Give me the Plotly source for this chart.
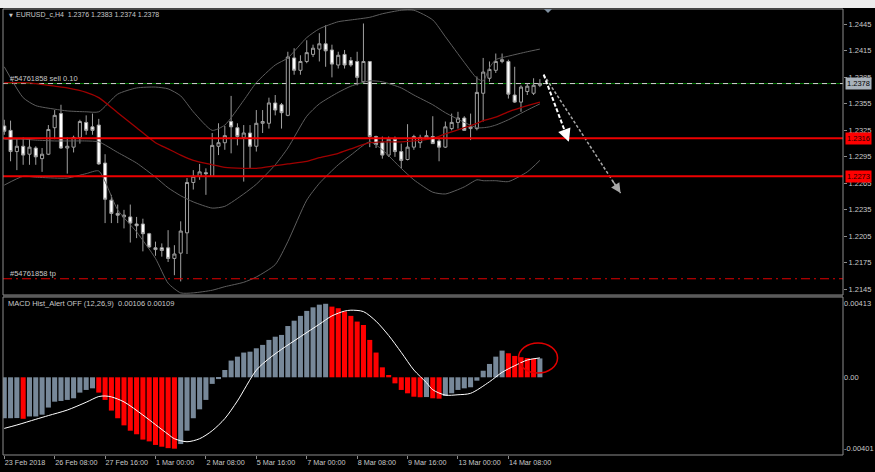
import plotly.graph_objects as go

# ---------------- data ----------------
bars = list(range(86))
open_ = [1.2330,1.2325,1.2301,1.2307,1.2298,1.2305,1.2293,1.2298,1.2328,1.2344,
         1.2305,1.2306,1.2317,1.2334,1.2329,1.2331,1.2288,1.2246,1.2231,1.2227,
         1.2227,1.2219,1.2219,1.2208,1.2192,1.2192,1.2192,1.2180,1.2186,1.2209,
         1.2266,1.2273,1.2277,1.2273,1.2307,1.2311,1.2335,1.2328,1.2317,1.2322,
         1.2307,1.2333,1.2333,1.2356,1.2354,1.2342,1.2407,1.2393,1.2403,1.2411,
         1.2417,1.2423,1.2416,1.2399,1.2411,1.2404,1.2403,1.2380,1.2403,1.2318,
         1.2311,1.2297,1.2315,1.2301,1.2292,1.2306,1.2311,1.2316,1.2318,1.2313,
         1.2306,1.2327,1.2334,1.2339,1.2327,1.2327,1.2367,1.2384,1.2393,1.2403,
         1.2403,1.2365,1.2357,1.2369,1.2367,1.2376]
high = [1.2337,1.2336,1.2316,1.2317,1.2316,1.2307,1.2305,1.2331,1.2348,1.2354,
        1.2317,1.2319,1.2337,1.2342,1.2344,1.2338,1.2298,1.2252,1.2241,1.2235,
        1.2241,1.2227,1.2225,1.2209,1.2199,1.2197,1.2212,1.2195,1.2222,1.2271,
        1.2280,1.2287,1.2282,1.2322,1.2333,1.2330,1.2364,1.2333,1.2331,1.2331,
        1.2348,1.2348,1.2362,1.2365,1.2356,1.2414,1.2418,1.2410,1.2427,1.2422,
        1.2435,1.2444,1.2422,1.2414,1.2416,1.2408,1.2414,1.2446,1.2403,1.2319,
        1.2318,1.2318,1.2318,1.2310,1.2332,1.2320,1.2320,1.2325,1.2341,1.2316,
        1.2335,1.2344,1.2346,1.2341,1.2344,1.2386,1.2407,1.2403,1.2412,1.2412,
        1.2405,1.2397,1.2376,1.2378,1.2384,1.2383]
low = [1.2320,1.2290,1.2280,1.2286,1.2286,1.2286,1.2278,1.2297,1.2315,1.2304,
       1.2276,1.2300,1.2310,1.2320,1.2320,1.2286,1.2220,1.2220,1.2220,1.2214,
       1.2198,1.2203,1.2188,1.2192,1.2183,1.2182,1.2176,1.2161,1.2154,1.2185,
       1.2258,1.2269,1.2252,1.2273,1.2297,1.2303,1.2299,1.2308,1.2267,1.2282,
       1.2301,1.2322,1.2327,1.2342,1.2327,1.2341,1.2388,1.2388,1.2401,1.2408,
       1.2403,1.2397,1.2385,1.2395,1.2395,1.2397,1.2376,1.2378,1.2306,1.2305,
       1.2293,1.2295,1.2295,1.2282,1.2291,1.2303,1.2305,1.2315,1.2310,1.2290,
       1.2305,1.2325,1.2327,1.2325,1.2314,1.2325,1.2335,1.2380,1.2390,1.2401,
       1.2361,1.2356,1.2346,1.2365,1.2365,1.2374]
close = [1.2324,1.2301,1.2307,1.2297,1.2306,1.2295,1.2298,1.2326,1.2342,1.2305,
         1.2307,1.2317,1.2335,1.2325,1.2325,1.2287,1.2247,1.2231,1.2229,1.2229,
         1.2220,1.2217,1.2208,1.2193,1.2190,1.2189,1.2180,1.2185,1.2211,1.2266,
         1.2273,1.2278,1.2276,1.2308,1.2311,1.2319,1.2329,1.2318,1.2322,1.2307,
         1.2333,1.2335,1.2356,1.2348,1.2345,1.2408,1.2393,1.2403,1.2413,1.2418,
         1.2423,1.2415,1.2400,1.2410,1.2399,1.2399,1.2385,1.2403,1.2318,1.2309,
         1.2297,1.2315,1.2301,1.2291,1.2306,1.2318,1.2317,1.2319,1.2310,1.2306,
         1.2329,1.2334,1.2339,1.2325,1.2329,1.2368,1.2391,1.2394,1.2403,1.2405,
         1.2366,1.2357,1.2374,1.2375,1.2376,1.2378]

band_bars = [0,3,5,8,10,13,15,18,21,24,26,28,30,33,35,38,40,43,45,48,50,53,55,58,
             60,63,65,68,70,73,75,76,77,78,80,83,85]
bb_upper = [1.2397,1.2362,1.2353,1.2349,1.2347,1.2346,1.2346,1.2366,1.2373,1.2374,
            1.2372,1.2364,1.2346,1.2325,1.2331,1.2359,1.2379,1.2399,1.2407,1.2430,
            1.2440,1.2448,1.2450,1.2453,1.2457,1.2461,1.2461,1.2450,1.2431,1.2402,
            1.2384,1.2381,1.2396,1.2405,1.2409,1.2414,1.2417]
bb_middle = [1.2315,1.2315,1.2314,1.2313,1.2313,1.2313,1.2312,1.2300,1.2288,1.2272,
             1.2260,1.2251,1.2244,1.2237,1.2239,1.2253,1.2264,1.2286,1.2305,1.2341,
             1.2355,1.2368,1.2375,1.2381,1.2380,1.2373,1.2365,1.2354,1.2345,1.2334,
             1.2328,1.2328,1.2329,1.2331,1.2337,1.2348,1.2355]
bb_lower = [1.2263,1.2273,1.2272,1.2271,1.2271,1.2276,1.2279,1.2235,1.2210,1.2180,
            1.2152,1.2141,1.2141,1.2144,1.2148,1.2153,1.2159,1.2173,1.2199,1.2246,
            1.2265,1.2286,1.2297,1.2312,1.2303,1.2282,1.2269,1.2255,1.2253,1.2261,
            1.2269,1.2268,1.2268,1.2268,1.2267,1.2278,1.2291]
ma_red = [1.2379,1.2379,1.2378,1.2375,1.2373,1.2368,1.2362,1.2345,1.2328,1.2311,
          1.2304,1.2297,1.2291,1.2286,1.2283,1.2282,1.2282,1.2285,1.2287,1.2290,
          1.2294,1.2299,1.2304,1.2311,1.2312,1.2312,1.2313,1.2316,1.2321,1.2328,
          1.2333,1.2336,1.2338,1.2340,1.2346,1.2353,1.2357]

macd_hist = [-0.00230,-0.00230,-0.00229,-0.00233,-0.00220,-0.00220,-0.00210,-0.00170,-0.00137,-0.00133,
             -0.00127,-0.00118,-0.00086,-0.00071,-0.00062,-0.00086,-0.00127,-0.00187,-0.00230,-0.00270,
             -0.00300,-0.00320,-0.00350,-0.00360,-0.00380,-0.00390,-0.00398,-0.00401,-0.00375,-0.00300,
             -0.00230,-0.00180,-0.00127,-0.00037,-0.00010,0.00041,0.00094,0.00116,0.00139,0.00144,
             0.00163,0.00182,0.00210,0.00228,0.00238,0.00288,0.00318,0.00345,0.00373,0.00393,
             0.00408,0.00413,0.00397,0.00388,0.00370,0.00345,0.00313,0.00294,0.00210,0.00139,
             0.00056,0.00013,-0.00034,-0.00071,-0.00090,-0.00109,-0.00112,-0.00111,-0.00118,-0.00120,
             -0.00105,-0.00090,-0.00071,-0.00062,-0.00056,-0.00019,0.00037,0.00075,0.00116,0.00150,
             0.00135,0.00120,0.00113,0.00108,0.00104,0.00106]
sig_bars = [0,2,5,7,10,13,15,16,17,19,22,24,26,27,29,31,33,35,37,40,42,44,47,50,52,54,55,
            57,59,61,63,65,67,68,70,72,74,77,79,81,83,85]
macd_signal = [-0.00287,-0.00268,-0.00236,-0.00215,-0.00184,-0.00140,-0.00108,-0.00105,-0.00110,
               -0.00138,-0.00212,-0.00266,-0.00320,-0.00345,-0.00362,-0.00345,-0.00300,-0.00232,
               -0.00133,0.00040,0.00105,0.00157,0.00228,0.00298,0.00345,0.00372,0.00377,0.00369,
               0.00315,0.00235,0.00140,0.00041,-0.00030,-0.00070,-0.00100,-0.00098,-0.00090,
               -0.00025,0.00028,0.00065,0.00097,0.00109]

sell_level = 1.2378
red_levels = [1.2316, 1.2273]
tp_level = 1.2157

price_ticks = [1.2145,1.2175,1.2205,1.2235,1.2265,1.2295,1.2325,1.2355,1.2385,1.2415,1.2445]
x_tick_bars = [0,8,16,24,32,40,48,56,64,72,80]
x_tick_labels = ["23 Feb 2018","26 Feb 08:00","27 Feb 16:00","1 Mar 00:00","2 Mar 08:00",
                 "5 Mar 16:00","7 Mar 00:00","8 Mar 08:00","9 Mar 16:00","13 Mar 00:00","14 Mar 08:00"]
macd_ticks = [0.00413, 0.0, -0.00401]
macd_tick_labels = ["0.00413", "0.00", "-0.00401"]

# arrow drawings (bar, price)
arrow_start = (85.6, 1.2388)
arrow1_end = (89.6, 1.2312)
arrow2_end = (97.8, 1.2254)
# ellipse on MACD window (bar range, value range)
ellipse_x = (81.6, 87.8)
ellipse_y = (0.00024, 0.00193)

FONT = "Liberation Sans"
TXT = "#c8c8c8"
GRAY = "#8c8c8c"
BAND = "#5e5e5e"

fig = go.Figure()

for yy in (bb_upper, bb_middle, bb_lower):
    fig.add_trace(go.Scatter(x=band_bars, y=yy, mode="lines",
                             line=dict(color=BAND, width=1, shape="spline", smoothing=0.6),
                             hoverinfo="skip"))
fig.add_trace(go.Scatter(x=band_bars, y=ma_red, mode="lines",
                         line=dict(color="#a00000", width=1.3, shape="spline", smoothing=0.6),
                         hoverinfo="skip"))

fig.add_trace(go.Candlestick(
    x=bars, open=open_, high=high, low=low, close=close,
    increasing=dict(line=dict(color="#a0a0a0", width=1), fillcolor="#000000"),
    decreasing=dict(line=dict(color="#a0a0a0", width=1), fillcolor="#ffffff"),
    whiskerwidth=0, hoverinfo="skip", xaxis="x", yaxis="y"))

fig.add_trace(go.Scatter(x=[arrow_start[0], arrow2_end[0]], y=[arrow_start[1], arrow2_end[1]],
                         mode="lines", line=dict(color="#a8a8a8", width=1.5, dash="3px,2px"),
                         hoverinfo="skip"))
fig.add_trace(go.Scatter(x=[arrow_start[0], arrow1_end[0]], y=[arrow_start[1], arrow1_end[1]],
                         mode="lines", line=dict(color="#ffffff", width=2, dash="4px,2px"),
                         hoverinfo="skip"))

hist_colors = ["#778899"] + ["#ff0000" if macd_hist[i] < macd_hist[i - 1] else "#778899"
                             for i in range(1, len(macd_hist))]
fig.add_trace(go.Bar(x=bars, y=macd_hist, marker=dict(color=hist_colors, line=dict(width=0)),
                     width=0.8, xaxis="x2", yaxis="y2", hoverinfo="skip"))
fig.add_trace(go.Scatter(x=sig_bars, y=macd_signal, mode="lines",
                         line=dict(color="#ffffff", width=1, shape="spline", smoothing=0.8),
                         xaxis="x2", yaxis="y2", hoverinfo="skip"))

shapes = []
shapes.append(dict(type="rect", xref="paper", yref="paper", x0=-0.01, x1=1.05,
                   y0=1.0025, y1=1.03, fillcolor="#ececec", line=dict(width=0), layer="below"))
shapes.append(dict(type="line", xref="paper", yref="y", x0=0, x1=1, y0=sell_level, y1=sell_level,
                   line=dict(color="#007a00", width=1), layer="below"))
shapes.append(dict(type="line", xref="paper", yref="y", x0=0, x1=1, y0=sell_level, y1=sell_level,
                   line=dict(color="#d0d0d0", width=1, dash="5px,4px"), layer="below"))
for lv in red_levels:
    shapes.append(dict(type="line", xref="paper", yref="y", x0=0, x1=1, y0=lv, y1=lv,
                       line=dict(color="#ee0000", width=2), layer="above"))
shapes.append(dict(type="line", xref="paper", yref="y", x0=0, x1=1, y0=tp_level, y1=tp_level,
                   line=dict(color="#e00000", width=1, dash="9px,4px,2px,4px"), layer="above"))
shapes.append(dict(type="circle", xref="x2", yref="y2", x0=ellipse_x[0], x1=ellipse_x[1],
                   y0=ellipse_y[0], y1=ellipse_y[1], line=dict(color="#e00000", width=1.5)))
shapes.append(dict(type="rect", xref="paper", yref="paper", x0=0, x1=1, y0=0.35874, y1=1,
                   line=dict(color=GRAY, width=1)))
shapes.append(dict(type="rect", xref="paper", yref="paper", x0=0, x1=1, y0=0, y1=0.35426,
                   line=dict(color=GRAY, width=1)))
shapes.append(dict(type="rect", xref="paper", yref="paper", x0=0, x1=1, y0=0.35426, y1=0.35874,
                   fillcolor="#5a5a5a", line=dict(width=0)))
shapes.append(dict(type="path", xref="paper", yref="paper",
                   path="M 0.6440 1.0 L 0.6536 1.0 L 0.6488 0.9910 Z",
                   fillcolor="#8090a0", line=dict(width=0)))

annotations = []
small = dict(family=FONT, size=7.5, color=TXT)
ticksmall = dict(family=FONT, size=7.2, color=TXT)
annotations.append(dict(xref="paper", yref="paper", x=0.0045, y=0.9866, xanchor="left", yanchor="middle",
                        text="▼", showarrow=False, font=dict(family="DejaVu Sans", size=5, color=TXT)))
annotations.append(dict(xref="paper", yref="paper", x=0.013, y=0.9866, xanchor="left", yanchor="middle",
                        text="EURUSD_c,H4  1.2376 1.2383 1.2374 1.2378", showarrow=False,
                        font=dict(family=FONT, size=7, color=TXT)))
annotations.append(dict(xref="paper", yref="y", x=0.006, y=sell_level, xanchor="left", yanchor="bottom",
                        text="#54761858 sell 0.10", showarrow=False, font=small, yshift=-1))
annotations.append(dict(xref="paper", yref="y", x=0.006, y=tp_level, xanchor="left", yanchor="bottom",
                        text="#54761858 tp", showarrow=False, font=small, yshift=-1))
annotations.append(dict(xref="paper", yref="paper", x=0.004, y=0.3386, xanchor="left", yanchor="middle",
                        text="MACD Hist_Alert OFF (12,26,9)  0.00106 0.00109", showarrow=False, font=small))
annotations.append(dict(xref="paper", yref="y", x=1.0024, y=sell_level, xanchor="left", yanchor="middle",
                        text="1.2378", showarrow=False, bgcolor="#a9b2bb", borderpad=1,
                        font=dict(family=FONT, size=7.5, color="#000000")))
for lv in red_levels:
    annotations.append(dict(xref="paper", yref="y", x=1.0024, y=lv, xanchor="left", yanchor="middle",
                            text=f"{lv:.4f}", showarrow=False, bgcolor="#ff0000", borderpad=1,
                            font=dict(family=FONT, size=7.5, color="#200000")))
for end, col, w in [(arrow1_end, "#ffffff", 2), (arrow2_end, "#a8a8a8", 1.5)]:
    ax = end[0] - 0.12 * (end[0] - arrow_start[0])
    ay = end[1] - 0.12 * (end[1] - arrow_start[1])
    annotations.append(dict(x=end[0], y=end[1], ax=ax, ay=ay, xref="x", yref="y",
                            axref="x", ayref="y", text="", showarrow=True, arrowhead=2,
                            arrowsize=1.3, arrowwidth=w, arrowcolor=col))

fig.update_layout(
    width=875, height=472,
    margin=dict(l=3, r=32, t=9, b=17, autoexpand=False),
    paper_bgcolor="#000000", plot_bgcolor="#000000",
    showlegend=False,
    xaxis=dict(domain=[0, 1], range=[-0.2, 133.1], anchor="y", showticklabels=False,
               showgrid=False, zeroline=False, ticks="", rangeslider=dict(visible=False),
               fixedrange=True, automargin=False),
    yaxis=dict(domain=[0.35874, 1], range=[1.21386, 1.24624], side="right", anchor="x",
               tickvals=price_ticks, ticktext=[f"{v:.4f}" for v in price_ticks],
               showgrid=False, zeroline=False, ticks="outside", ticklen=3, tickcolor=GRAY,
               tickfont=small, showline=False, automargin=False),
    xaxis2=dict(domain=[0, 1], matches="x", anchor="y2", tickvals=x_tick_bars,
                ticktext=x_tick_labels, ticklabelposition="outside right", tickangle=0,
                ticks="outside", ticklen=3, tickcolor=GRAY, tickfont=ticksmall,
                showgrid=False, zeroline=False, showline=False, automargin=False),
    yaxis2=dict(domain=[0, 0.35426], range=[-0.004365, 0.004511], side="right", anchor="x2",
                tickvals=macd_ticks, ticktext=macd_tick_labels, ticks="", tickfont=small,
                showgrid=False, zeroline=False, showline=False, automargin=False),
    shapes=shapes, annotations=annotations,
    bargap=0.2,
)

fig.write_html("out.html", config={"displayModeBar": False})

# remove the browser's default page margin so the figure sits at the window origin
with open("out.html", "r", encoding="utf-8") as f:
    html = f.read()
html = html.replace("<head>", "<head><style>html,body{margin:0;padding:0;background:#000;}</style>", 1)
with open("out.html", "w", encoding="utf-8") as f:
    f.write(html)
